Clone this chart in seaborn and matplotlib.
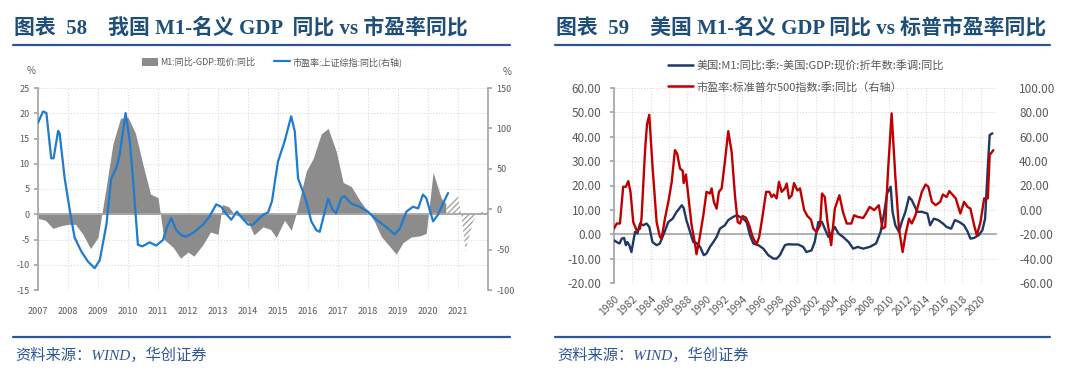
import matplotlib
matplotlib.use("Agg")
import matplotlib.pyplot as plt
import seaborn as sns
from matplotlib.lines import Line2D
from matplotlib.patches import Patch
from matplotlib.ticker import FormatStrFormatter

# ---------- 图表58: China M1-nominal GDP gap (left axis, %) ----------
cn_gap_year = [2007.0, 2007.25, 2007.5, 2007.75, 2008.0, 2008.25, 2008.5, 2008.75,
               2009.0, 2009.25, 2009.5, 2009.75, 2010.0, 2010.25, 2010.5, 2010.75,
               2011.0, 2011.2, 2011.5, 2011.75, 2012.0, 2012.2, 2012.5, 2012.75,
               2013.0, 2013.15, 2013.35, 2013.55, 2013.75, 2014.0, 2014.2, 2014.5,
               2014.75, 2014.94, 2015.22, 2015.44, 2015.6, 2015.94, 2016.17, 2016.44,
               2016.67, 2016.94, 2017.17, 2017.44, 2017.72, 2018.0, 2018.22, 2018.44,
               2018.67, 2018.94, 2019.17, 2019.44, 2019.72, 2019.94, 2020.17, 2020.44,
               2020.61]
cn_gap = [-0.8, -1.2, -2.8, -2.3, -2.0, -2.0, -4.0, -6.8,
          -4.6, 4.5, 14.0, 19.0, 19.2, 16.0, 9.8, 4.0,
          3.3, -5.0, -6.5, -8.7, -7.5, -8.3, -6.0, -3.5,
          -4.0, 1.9, 1.5, 0.0, -0.5, -1.5, -4.1, -2.5,
          -3.0, -4.6, -1.2, -3.2, 0.0, 8.5, 11.0, 15.9,
          17.0, 12.5, 6.3, 5.5, 2.8, 0.5, -1.5, -4.4,
          -6.0, -7.9, -5.6, -4.5, -4.3, -3.8, 8.3, 3.2,
          2.0]

# forecast part (hatched)
cn_gap_fcst_year = [2020.61, 2020.75, 2021.0, 2021.12, 2021.25, 2021.5, 2021.7, 2021.85, 2022.0]
cn_gap_fcst = [2.0, 2.4, 3.5, -0.5, -7.4, -1.5, 0.3, 0.5, 0.5]

# Shanghai composite PE yoy (right axis, %)
cn_pe_year = [2007.0, 2007.17, 2007.28, 2007.44, 2007.52, 2007.67, 2007.72, 2007.89,
              2008.08, 2008.22, 2008.44, 2008.67, 2008.89, 2009.06, 2009.28, 2009.44,
              2009.61, 2009.72, 2009.92, 2010.06, 2010.17, 2010.33, 2010.48, 2010.72,
              2010.94, 2011.17, 2011.28, 2011.44, 2011.61, 2011.78, 2011.94, 2012.22,
              2012.5, 2012.72, 2012.94, 2013.11, 2013.28, 2013.44, 2013.63, 2013.78,
              2014.0, 2014.17, 2014.33, 2014.5, 2014.67, 2014.8, 2014.92, 2015.0,
              2015.22, 2015.44, 2015.56, 2015.67, 2015.83, 2015.94, 2016.11, 2016.28,
              2016.39, 2016.56, 2016.67, 2016.81, 2016.94, 2017.11, 2017.22, 2017.44,
              2017.72, 2018.0, 2018.28, 2018.5, 2018.67, 2018.89, 2019.06, 2019.28,
              2019.5, 2019.67, 2019.83, 2019.94, 2020.17, 2020.33, 2020.5, 2020.67]
cn_pe_yoy = [107, 121, 119, 63, 63, 97, 94, 38,
             -6, -35, -52, -65, -73, -63, -19, 38,
             51, 67, 119, 84, 36, -44, -46, -41,
             -45, -38, -24, -11, -26, -32, -34, -28,
             -19, -9, 6, 3, -6, -13, -3, -10,
             -19, -19, -13, -7, -4, 10, 40, 59,
             84, 115, 96, 38, 22, 10, -15, -26,
             -28, -3, 13, 0, -5, 14, 16, 7,
             3, -3, -13, -19, -24, -31, -24, -3,
             3, 1, 18, 14, -15, -7, 7, 20]

# ---------- 图表59: US M1-nominal GDP gap (left axis) ----------
us_gap_year = [1980.0, 1980.3, 1980.6, 1980.85, 1981.1, 1981.3, 1981.45, 1981.67, 1981.9,
               1982.3, 1982.55, 1982.84, 1983.2, 1983.56, 1983.85, 1984.2, 1984.65, 1985.0,
               1985.45, 1985.93, 1986.4, 1986.84, 1987.4, 1987.6, 1987.9, 1988.3, 1988.65,
               1989.0, 1989.4, 1989.8, 1990.1, 1990.47, 1990.84, 1991.2, 1991.56, 1992.1,
               1992.47, 1993.0, 1993.4, 1993.75, 1994.1, 1994.47, 1994.84, 1995.2, 1995.75,
               1996.3, 1996.84, 1997.4, 1997.75, 1998.1, 1998.65, 1999.0, 1999.56, 2000.1,
               2000.65, 2001.0, 2001.56, 2001.9, 2002.3, 2002.7, 2003.0, 2003.4, 2003.7,
               2004.1, 2004.5, 2005.0, 2005.6, 2006.1, 2006.6, 2007.2, 2007.9, 2008.6,
               2009.1, 2009.5, 2009.8, 2010.2, 2010.4, 2010.7, 2011.1, 2011.4, 2011.8,
               2012.2, 2012.5, 2013.1, 2013.6, 2014.2, 2014.5, 2014.9, 2015.4, 2015.9,
               2016.3, 2016.8, 2017.2, 2017.7, 2018.2, 2018.6, 2018.9, 2019.3, 2019.8,
               2020.2, 2020.5, 2020.8, 2021.0, 2021.3]
us_gap = [-2.5, -3.2, -3.8, -1.8, -1.5, -4.5, -3.2, -4.5, -7.3,
          1.0, 0.3, 4.4, 3.7, 4.4, 3.0, -3.2, -4.5, -3.8,
          0.3, 5.0, 6.4, 9.2, 11.9, 10.8, 5.8, 1.0, -3.2,
          -3.6, -5.2, -8.6, -7.9, -5.2, -3.2, -1.1, 2.3, 3.7,
          5.8, 7.1, 7.8, 7.1, 6.4, 5.0, -0.4, -3.8, -4.5,
          -5.9, -8.6, -10.0, -10.0, -8.6, -4.5, -4.1, -4.2, -4.2,
          -5.2, -7.3, -6.6, -3.2, 5.0, 5.0, 2.3, -1.1, 0.3,
          3.0, 0.3, -1.1, -3.2, -5.9, -5.2, -5.9, -5.2, -3.8,
          1.0, 9.2, 16.7, 19.5, 9.2, 3.7, 1.0, 5.0, 9.2,
          15.3, 14.0, 9.2, 9.2, 8.5, 3.7, 6.4, 5.8, 4.4,
          3.0, 2.3, 5.8, 5.0, 3.7, 1.0, -1.8, -1.5, -0.4,
          1.6, 6.4, 27.7, 40.7, 41.4]

# S&P 500 PE yoy (right axis)
us_pe_year = [1980.0, 1980.3, 1980.65, 1981.0, 1981.3, 1981.56, 1981.8, 1982.1, 1982.47,
              1982.84, 1983.0, 1983.4, 1983.6, 1983.85, 1984.2, 1984.65, 1985.0, 1985.2,
              1985.56, 1985.93, 1986.3, 1986.65, 1986.9, 1987.2, 1987.5, 1987.6, 1987.85,
              1988.1, 1988.47, 1988.84, 1989.0, 1989.3, 1989.75, 1990.1, 1990.47, 1990.65,
              1990.9, 1991.2, 1991.45, 1991.75, 1992.1, 1992.47, 1992.84, 1993.2, 1993.5,
              1993.75, 1994.03, 1994.4, 1994.76, 1995.13, 1995.56, 1995.85, 1996.2, 1996.6,
              1996.95, 1997.2, 1997.45, 1997.75, 1998.0, 1998.3, 1998.65, 1998.85, 1999.1,
              1999.4, 1999.65, 2000.0, 2000.3, 2000.75, 2001.1, 2001.5, 2001.75, 2002.1,
              2002.5, 2002.7, 2003.0, 2003.3, 2003.7, 2004.1, 2004.6, 2005.0, 2005.4,
              2005.9, 2006.2, 2006.6, 2007.2, 2007.5, 2007.9, 2008.4, 2008.9, 2009.3,
              2009.6, 2009.9, 2010.3, 2010.7, 2011.1, 2011.5, 2011.8, 2012.2, 2012.5,
              2012.9, 2013.3, 2013.6, 2014.0, 2014.3, 2014.7, 2015.1, 2015.6, 2015.9,
              2016.3, 2016.6, 2017.0, 2017.3, 2017.8, 2018.2, 2018.6, 2018.9, 2019.3,
              2019.6, 2020.0, 2020.4, 2020.8, 2021.0, 2021.4]
us_pe_yoy = [-15.4, -11.2, -11.2, 19.0, 19.0, 23.6, 14.8, -10.0, -16.8,
             -15.4, -7.2, 50.0, 70.0, 78.0, 36.0, -10.0, -22.0, -23.6,
             -7.2, 6.6, 23.0, 49.0, 46.0, 34.0, 32.0, 22.0, 29.0,
             12.0, -12.6, -27.6, -36.4, -25.0, -4.4, 14.8, 13.4, 17.6,
             6.6, 1.0, 14.8, 17.6, 39.4, 64.6, 47.6, 12.0, -10.0,
             -11.2, -5.0, -6.4, -12.6, -22.2, -28.4, -22.0, -5.8, 14.8,
             14.8, 10.6, 12.6, 9.4, 23.0, 14.8, 17.6, 21.6, 9.4,
             12.0, 22.0, 16.0, 17.6, 0.0, -5.0, -8.0, -15.4, -18.0,
             -12.6, 13.4, 10.6, -10.0, -29.0, 1.0, 12.0, -2.0, -11.2,
             -11.2, -4.4, -5.8, -6.6, -3.0, 2.4, -0.2, 3.8, -15.4,
             -14.0, 31.2, 79.2, 28.0, -15.4, -34.6, -20.8, -7.2, -11.2,
             -4.4, 6.6, 14.8, 20.8, 19.0, 6.6, 3.8, 6.6, 12.6,
             10.6, 15.4, 12.0, 9.4, -3.0, 6.6, 2.4, 1.0, -12.6,
             -20.8, -10.0, 9.4, 9.4, 45.0, 49.0]

TITLE_BLUE = '#1f4e79'
RULE_BLUE = '#2f5597'
TICK_GREY = '#595959'
AXIS_GREY = '#a6a6a6'
GRID_GREY = '#d9d9d9'
SERIF_CJK = ['Liberation Serif', 'Noto Sans CJK SC']

sns.set_theme(style='white')
plt.rcParams['font.family'] = ['Noto Sans CJK SC', 'DejaVu Sans']
plt.rcParams['axes.unicode_minus'] = False
plt.rcParams['hatch.linewidth'] = 1.0
plt.rcParams['hatch.color'] = '#a6a6a6'

W, H = 1080, 380
fig = plt.figure(figsize=(W / 100, H / 100), dpi=100)


def px_box(x0, y0, x1, y1):
    return [x0 / W, 1 - y1 / H, (x1 - x0) / W, (y1 - y0) / H]


def style_axes(ax):
    for s in ax.spines.values():
        s.set_visible(False)
    ax.set_xlabel('')
    ax.set_ylabel('')


# ---------- headers / footers ----------
for x0, x1, title in [(13, 510, '图表  58    我国 M1-名义 GDP  同比 vs 市盈率同比'),
                      (555, 1050, '图表  59    美国 M1-名义 GDP 同比 vs 标普市盈率同比')]:
    fig.text(x0 / W + 0.001, 1 - 28 / H, title, fontsize=15, fontweight='bold',
             family=SERIF_CJK, color=TITLE_BLUE, va='center', ha='left')
    fig.add_artist(Line2D([x0 / W, x1 / W], [1 - 44.5 / H] * 2, color=RULE_BLUE, lw=1.6))
    fig.add_artist(Line2D([x0 / W, x1 / W], [1 - 337 / H] * 2, color=RULE_BLUE, lw=1.6))
    fig.text(x0 / W + 0.002, 1 - 355 / H, '资料来源：WIND，华创证券', fontsize=11,
             family=SERIF_CJK, style='italic', color=RULE_BLUE, va='center', ha='left')

# ---------- 图表58 ----------
ax1 = fig.add_axes(px_box(38, 88, 488, 290))
ax1.fill_between(cn_gap_year, cn_gap, 0, color='#8c8c8c', lw=0)
ax1.fill_between(cn_gap_fcst_year, cn_gap_fcst, 0, facecolor='white',
                 edgecolor=AXIS_GREY, hatch='//////', lw=0)
ax1.axhline(0, color=AXIS_GREY, lw=1.3)
ax1.set_xlim(2007, 2022)
ax1.set_ylim(-15, 25)
ax1.set_xticks(range(2007, 2022))
ax1.set_yticks(range(-15, 26, 5))
ax1.grid(True, ls=':', color=GRID_GREY, lw=0.8)
style_axes(ax1)
ax1.spines['left'].set_visible(True)
ax1.spines['left'].set_color(AXIS_GREY)
ax1.tick_params(axis='y', left=True, length=3, color=AXIS_GREY, labelsize=6.5,
                labelcolor=TICK_GREY, pad=3)
ax1.tick_params(axis='x', bottom=False, labelsize=6.5, labelcolor=TICK_GREY, pad=6)

ax1b = ax1.twinx()
sns.lineplot(x=cn_pe_year, y=cn_pe_yoy, ax=ax1b, color='#1e7bd0', lw=1.6)
ax1b.set_ylim(-100, 150)
ax1b.set_yticks(range(-100, 151, 50))
style_axes(ax1b)
ax1b.spines['right'].set_visible(True)
ax1b.spines['right'].set_color(AXIS_GREY)
ax1b.tick_params(axis='y', right=True, length=3, color=AXIS_GREY, labelsize=6.5,
                 labelcolor=TICK_GREY, pad=3)

fig.text(31 / W, 1 - 71 / H, '%', fontsize=7, color=TICK_GREY, ha='center', va='center')
fig.text(507 / W, 1 - 72 / H, '%', fontsize=7, color=TICK_GREY, ha='center', va='center')

cn_handles = [Patch(facecolor='#8c8c8c', edgecolor='none'),
              Line2D([], [], color='#1e7bd0', lw=1.6)]
fig.legend(cn_handles, ['M1:同比-GDP:现价:同比', '市盈率:上证综指:同比(右轴)'],
           loc='center', bbox_to_anchor=(272 / W, 1 - 62 / H), ncol=2, frameon=False,
           fontsize=6.5, labelcolor=TICK_GREY, handlelength=1.8, handleheight=0.9,
           handletextpad=0.3, columnspacing=2.0)

# ---------- 图表59 ----------
ax2 = fig.add_axes(px_box(614, 88, 997, 283))
ax2.axhline(0, color=AXIS_GREY, lw=1.2, zorder=1)
sns.lineplot(x=us_gap_year, y=us_gap, ax=ax2, color='#1f3864', lw=1.7, zorder=3)
ax2.set_xlim(1980, 2021.8)
ax2.set_ylim(-20, 60)
ax2.set_yticks(range(-20, 61, 10))
ax2.set_xticks(range(1980, 2021, 2))
ax2.yaxis.set_major_formatter(FormatStrFormatter('%.2f'))
ax2.grid(True, ls=':', color=GRID_GREY, lw=0.8)
style_axes(ax2)
ax2.spines['left'].set_visible(True)
ax2.spines['left'].set_color(AXIS_GREY)
ax2.tick_params(axis='y', left=True, length=3, color=AXIS_GREY, labelsize=8.5,
                labelcolor=TICK_GREY, pad=6)
ax2.tick_params(axis='x', bottom=False, labelsize=7.5, labelcolor=TICK_GREY, pad=2)
for lab in ax2.get_xticklabels():
    lab.set_rotation(45)
    lab.set_ha('right')
    lab.set_rotation_mode('anchor')

ax2b = ax2.twinx()
sns.lineplot(x=us_pe_year, y=us_pe_yoy, ax=ax2b, color='#c00000', lw=1.7)
ax2b.set_ylim(-60, 100)
ax2b.set_yticks(range(-60, 101, 20))
ax2b.yaxis.set_major_formatter(FormatStrFormatter('%.2f'))
style_axes(ax2b)
ax2b.tick_params(axis='y', right=False, labelsize=8.5, labelcolor=TICK_GREY, pad=10)

us_handles = [Line2D([], [], color='#1f3864', lw=1.8),
              Line2D([], [], color='#c00000', lw=1.8)]
fig.legend(us_handles, ['美国:M1:同比:季:-美国:GDP:现价:折年数:季调:同比',
                        '市盈率:标准普尔500指数:季:同比（右轴）'],
           loc='upper left', bbox_to_anchor=(664 / W, 1 - 55 / H), ncol=1, frameon=False,
           fontsize=8, labelcolor=TICK_GREY, handlelength=2.2, handletextpad=0.3,
           labelspacing=1.0, borderaxespad=0)

fig.savefig('out.png', dpi=100)
plt.close(fig)
